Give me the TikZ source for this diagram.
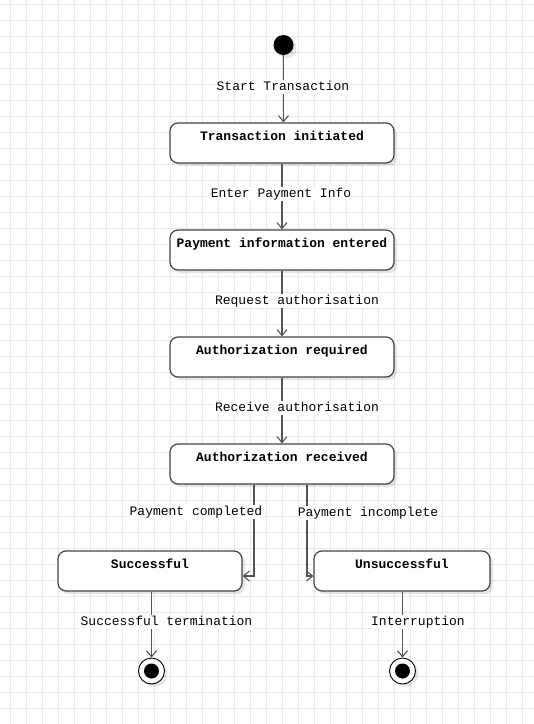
\documentclass[tikz,border=0pt]{standalone}
\usepackage{fontspec}
\setmonofont{Liberation Mono}
\usetikzlibrary{arrows.meta,shadows,calc}

\definecolor{gridc}{HTML}{E8E8E8}
\definecolor{edgec}{HTML}{555555}
\definecolor{boxc}{HTML}{444444}

\tikzset{
  gridline/.style={draw=gridc, line width=1pt},
  softshadow/.style={drop shadow={shadow xshift=3pt, shadow yshift=-3pt, fill=black, opacity=0.10}},
  statebox/.style={draw=boxc, line width=1.2pt, fill=white, rounded corners=8pt,
    softshadow, minimum height=40pt, inner ysep=0pt, inner xsep=4pt,
    text height=17.5pt, text depth=22.5pt,
    font=\ttfamily\bfseries\fontsize{13}{15}\selectfont},
  initstate/.style={circle, fill=black, minimum size=20pt, inner sep=0pt, softshadow},
  finalstate/.style={circle, draw=black, line width=0.9pt, fill=white, minimum size=26pt,
    inner sep=0pt, softshadow,
    path picture={\fill[black] (path picture bounding box.center) circle[radius=7.5pt];}},
  trans/.style={draw=edgec, line width=1.2pt, -{Straight Barb[length=6pt,width=10pt,line width=1.1pt]}},
  edgelabel/.style={fill=white, inner xsep=1pt, inner ysep=1pt, text height=9pt, text depth=3pt,
    font=\ttfamily\fontsize{13}{15}\selectfont}
}

\begin{document}
\begin{tikzpicture}[x=1pt,y=-1pt]
  % canvas and background grid
  \useasboundingbox (0,0) rectangle (534,724);
  \fill[white] (0,0) rectangle (534,724);
  \foreach \i in {0,...,33} \draw[gridline] ({10+16*\i},0) -- ({10+16*\i},724);
  \foreach \j in {0,...,45} \draw[gridline] (0,{4+16*\j}) -- (534,{4+16*\j});

  % states
  \node[initstate] (start) at (283.5,45) {};
  \node[statebox, minimum width=224pt] (initiated) at (282,143) {Transaction initiated};
  \node[statebox, minimum width=224pt] (entered)   at (282,250) {Payment information entered};
  \node[statebox, minimum width=224pt] (required)  at (282,357) {Authorization required};
  \node[statebox, minimum width=224pt] (received)  at (282,464) {Authorization received};
  \node[statebox, minimum width=184pt] (success)   at (150,571) {Successful};
  \node[statebox, minimum width=176pt] (failure)   at (402,571) {Unsuccessful};
  \node[finalstate] (endok)   at (151.5,671) {};
  \node[finalstate] (endfail) at (402.5,671) {};

  % transitions
  \draw[trans] (start) -- (start |- initiated.north);
  \draw[trans] (initiated) -- (entered);
  \draw[trans] (entered) -- (required);
  \draw[trans] (required) -- (received);
  \draw[trans] ($(received.south)+(-28,0)$) |- ([yshift=-5pt]success.east);
  \draw[trans] ($(received.south)+(25,0)$) |- ([yshift=-5pt]failure.west);
  \draw[trans] (success.south -| endok) -- (endok);
  \draw[trans] (failure.south -| endfail) -- (endfail);

  % transition labels
  \node[edgelabel] (lstart)   at (283,87)    {Start Transaction};
  \node[edgelabel] (lenter)   at (281,194)   {Enter Payment Info};
  \node[edgelabel] (lrequest) at (297,301)   {Request authorisation};
  \node[edgelabel] (lreceive) at (297,408)   {Receive authorisation};
  \node[edgelabel] (lcomp)    at (196,512)   {Payment completed};
  \node[edgelabel] (lincomp)  at (368,513)   {Payment incomplete};
  \node[edgelabel] (lterm)    at (166.5,622) {Successful termination};
  \node[edgelabel] (lint)     at (418,622)   {Interruption};
\end{tikzpicture}
\end{document}
